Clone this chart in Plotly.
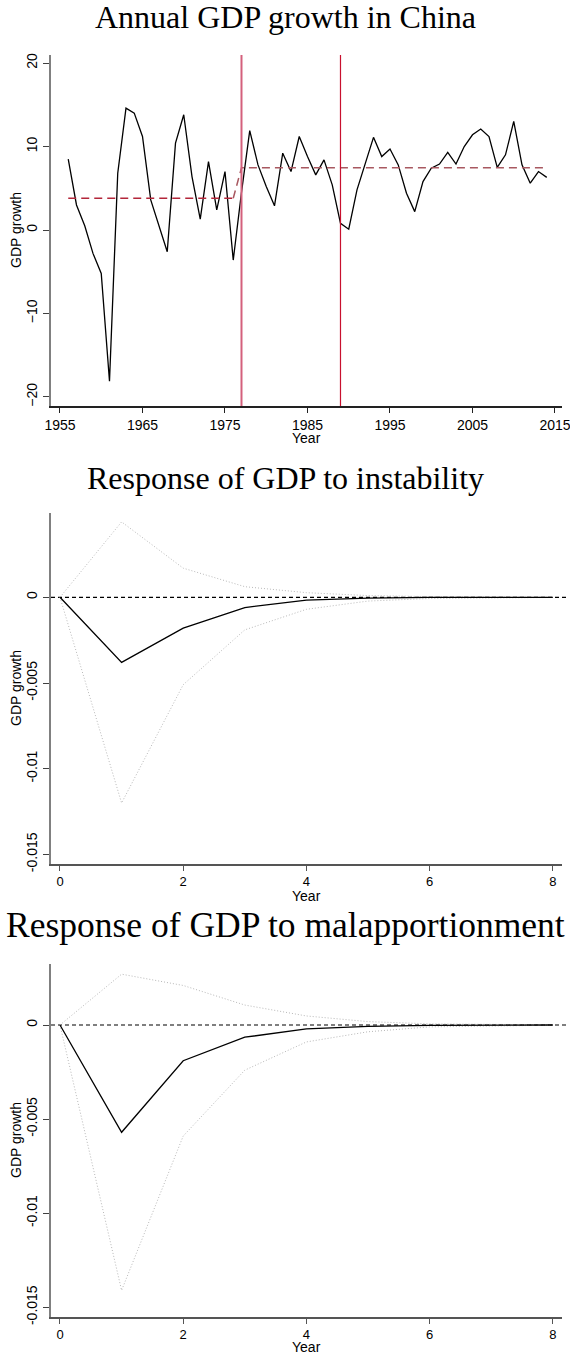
import plotly.graph_objects as go

# ---------------- data ----------------
years = list(range(1956, 2015))
gdp_growth = [8.5, 3.0, 0.5, -2.8, -5.2, -18.1, 6.8, 14.6, 14.0, 11.2,
              3.6, 0.5, -2.6, 10.4, 13.8, 6.4, 1.3, 8.2, 2.4, 7.0,
              -3.6, 4.5, 11.9, 7.8, 5.2, 2.9, 9.2, 7.0, 11.2, 8.8,
              6.6, 8.4, 5.4, 0.8, 0.1, 4.8, 8.0, 11.1, 8.8, 9.7,
              7.8, 4.4, 2.2, 5.8, 7.4, 7.9, 9.3, 7.9, 10.0, 11.4,
              12.1, 11.2, 7.5, 9.0, 13.0, 7.8, 5.6, 7.0, 6.3]
regime1_years = list(range(1956, 1977))
regime1_mean = 3.8
regime2_years = list(range(1977, 2015))
regime2_mean = 7.45
break_years = [1977, 1989]

steps = list(range(0, 9))
irf_instab = [0, -0.0038, -0.0018, -0.0006, -0.00016, -0.00005, -0.00001, 0.0, 0.0]
lo_instab = [0, -0.0120, -0.0051, -0.0019, -0.0007, -0.00022, -0.00007, -0.00002, -0.00001]
hi_instab = [0, 0.0044, 0.0017, 0.00062, 0.00027, 0.0001, 0.00004, 0.00001, 0.0]

irf_malap = [0, -0.0057, -0.0019, -0.00065, -0.00021, -0.00007, -0.00002, -0.00001, 0.0]
lo_malap = [0, -0.0141, -0.0059, -0.0024, -0.0009, -0.00036, -0.0001, -0.00004, -0.00001]
hi_malap = [0, 0.0027, 0.0021, 0.00106, 0.00048, 0.00018, 0.00006, 0.00002, 0.00001]

titles = ["Annual GDP growth in China",
          "Response of GDP to instability",
          "Response of GDP to malapportionment"]
x1_ticks = [1955, 1965, 1975, 1985, 1995, 2005, 2015]
y1_ticks = [-20, -10, 0, 10, 20]
irf_xticks = [0, 2, 4, 6, 8]
irf_yticks = [0, -0.005, -0.01, -0.015]
irf_yticklabels = ["0", "-0.005", "-0.01", "-0.015"]

# ---------------- figure ----------------
W, H = 570, 1354
fig = go.Figure()

def ypx(p):
    return 1 - p / H

# panel 1
fig.add_trace(go.Scatter(x=years, y=gdp_growth, mode="lines",
                         line=dict(color="black", width=1.3), xaxis="x", yaxis="y"))
fig.add_trace(go.Scatter(x=regime1_years, y=[regime1_mean] * len(regime1_years), mode="lines",
                         line=dict(color="#b3263a", width=1.5, dash="8px,5px"), xaxis="x", yaxis="y"))
fig.add_trace(go.Scatter(x=[regime1_years[-1]] + regime2_years,
                         y=[regime1_mean] + [regime2_mean] * len(regime2_years), mode="lines",
                         line=dict(color="#a85860", width=1.5, dash="8px,5px"), xaxis="x", yaxis="y"))

# panel 2 & 3
for ax, irf, lo, hi in [("2", irf_instab, lo_instab, hi_instab), ("3", irf_malap, lo_malap, hi_malap)]:
    for band in (lo, hi):
        fig.add_trace(go.Scatter(x=steps, y=band, mode="lines",
                                 line=dict(color="#b8b8b8", width=1, dash="1px,2px"),
                                 xaxis="x" + ax, yaxis="y" + ax))
    fig.add_trace(go.Scatter(x=steps, y=irf, mode="lines",
                             line=dict(color="black", width=1.3),
                             xaxis="x" + ax, yaxis="y" + ax))

shapes = []
shapes.append(dict(type="line", xref="x", yref="y domain", x0=break_years[0], x1=break_years[0],
                   y0=0, y1=1, line=dict(color="#d4607c", width=2)))
shapes.append(dict(type="line", xref="x", yref="y domain", x0=break_years[1], x1=break_years[1],
                   y0=0, y1=1, line=dict(color="#c8102e", width=1.2)))
for ax in ("2", "3"):
    shapes.append(dict(type="line", xref="x%s domain" % ax, yref="y" + ax, x0=0, x1=1.01,
                       y0=0, y1=0, line=dict(color="black", width=1.2, dash="4px,3px"), layer="below"))

tickfont = dict(family="Liberation Sans, Arial, sans-serif", size=14, color="black")
tickfont_small = dict(family="Liberation Sans, Arial, sans-serif", size=13, color="black")
xdom = [51 / W, 562 / W]

def xaxis(rng, ticks, anchor, color, font):
    return dict(domain=xdom, range=rng, tickvals=ticks, anchor=anchor, automargin=False,
                showline=True, linecolor=color, linewidth=1.5, ticks="outside",
                ticklen=5, tickcolor=color, tickwidth=1.2, showgrid=False, zeroline=False,
                tickfont=font, ticklabelstandoff=0, ticklabeloverflow="allow")

def yaxis(dom, rng, ticks, anchor, text=None):
    d = dict(domain=dom, range=rng, tickvals=ticks, anchor=anchor, automargin=False,
             showline=True, linecolor="#808080", linewidth=2, ticks="outside",
             ticklen=6, tickcolor="#404040", tickwidth=1.2, showgrid=False, zeroline=False,
             tickangle=-90, tickfont=tickfont, ticklabelstandoff=0, ticklabeloverflow="allow")
    if text is not None:
        d["ticktext"] = text
    return d

fig.update_layout(
    width=W, height=H, margin=dict(l=0, r=0, t=0, b=0, autoexpand=False),
    paper_bgcolor="white", plot_bgcolor="white", showlegend=False,
    xaxis=xaxis([1953.91, 2015.85], x1_ticks, "y", "#222222", tickfont),
    yaxis=yaxis([ypx(406), ypx(55)], [-21.08, 20.96], y1_ticks, "x"),
    xaxis2=xaxis([-0.146, 8.149], irf_xticks, "y2", "#555555", tickfont_small),
    yaxis2=yaxis([ypx(864), ypx(512.7)], [-0.01556, 0.004936], irf_yticks, "x2", irf_yticklabels),
    xaxis3=xaxis([-0.146, 8.149], irf_xticks, "y3", "#555555", tickfont_small),
    yaxis3=yaxis([ypx(1317), ypx(964)], [-0.015515, 0.003241], irf_yticks, "x3", irf_yticklabels),
    shapes=shapes,
)

ann = []
serif = "Liberation Serif, Times New Roman, serif"
for t, yc, sz in zip(titles, [17, 478, 925], [32, 32, 35.5]):
    ann.append(dict(text=t, x=0.5, y=ypx(yc), xref="paper", yref="paper", showarrow=False,
                    xanchor="center", yanchor="middle", font=dict(family=serif, size=sz, color="black")))
labfont = dict(family="Liberation Sans, Arial, sans-serif", size=14, color="black")
for yc in [438, 896, 1347]:
    ann.append(dict(text="Year", x=306.5 / W, y=ypx(yc), xref="paper", yref="paper", showarrow=False,
                    xanchor="center", yanchor="middle", font=labfont))
for yc in [230, 688, 1140]:
    ann.append(dict(text="GDP growth", x=16 / W, y=ypx(yc), xref="paper", yref="paper", showarrow=False,
                    xanchor="center", yanchor="middle", textangle=-90, font=labfont))
fig.update_layout(annotations=ann)

fig.write_html("out.html", config={"displayModeBar": False},
               post_script="document.body.style.margin='0px';document.body.style.overflow='hidden';")
